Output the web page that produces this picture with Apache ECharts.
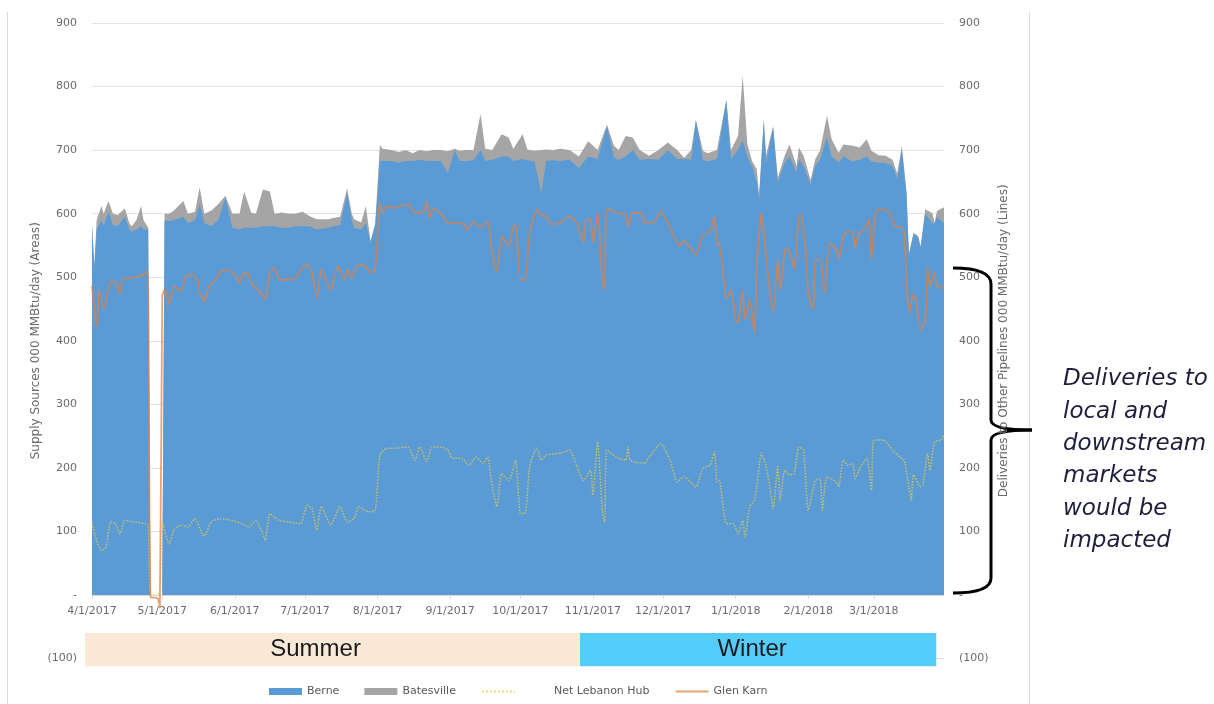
<!DOCTYPE html>
<html>
<head>
<meta charset="utf-8" />
<script src="https://cdn.jsdelivr.net/npm/echarts@6/dist/echarts.min.js"></script>
<style>
  html, body { margin: 0; padding: 0; background: #fff; }
  #main { width: 1214px; height: 704px; }
</style>
</head>
<body>
<div id="main"></div>
<script>
// x values are days counted from 4/1/2017
var monthTicks = [0, 30, 61, 91, 122, 153, 183, 214, 244, 275, 306, 334];
var monthLabels = ["4/1/2017", "5/1/2017", "6/1/2017", "7/1/2017", "8/1/2017", "9/1/2017",
  "10/1/2017", "11/1/2017", "12/1/2017", "1/1/2018", "2/1/2018", "3/1/2018"];

var areaDays = [0, 1, 2, 4, 5, 7, 9, 11, 14, 16,
  17, 19, 21, 22, 24, 25, 30, 31, 33, 35,
  39, 41, 44, 46, 48, 51, 54, 57, 60, 63,
  65, 68, 70, 73, 76, 78, 81, 84, 87, 90,
  93, 96, 101, 103, 106, 109, 111, 112, 115, 117,
  119, 121, 123, 124, 128, 131, 134, 137, 140, 143,
  146, 149, 152, 155, 157, 160, 163, 166, 168, 171,
  175, 178, 180, 184, 186, 189, 192, 194, 197, 200,
  204, 208, 212, 216, 220, 223, 225, 228, 231, 234,
  238, 242, 246, 250, 253, 256, 258, 261, 263, 267,
  271, 273, 276, 278, 280, 282, 284, 285, 287, 288,
  291, 293, 296, 298, 301, 302, 304, 307, 309, 311,
  314, 316, 319, 321, 325, 328, 331, 333, 336, 339,
  342, 344, 346, 348, 349, 351, 353, 354, 356, 359,
  360, 361, 364];
var berne = [578, 515, 575, 590, 580, 603, 582, 580, 595, 575,
  572, 575, 580, 575, 575, 0, 0, 590, 588, 590,
  595, 585, 590, 615, 585, 580, 590, 625, 578, 575,
  578, 578, 578, 580, 580, 580, 578, 578, 580, 580,
  580, 575, 578, 580, 582, 632, 590, 578, 575, 585,
  555, 580, 683, 683, 683, 680, 683, 683, 685, 683,
  683, 683, 664, 700, 683, 683, 684, 700, 683, 685,
  690, 690, 683, 686, 684, 682, 633, 683, 684, 683,
  685, 672, 690, 686, 738, 688, 685, 690, 700, 685,
  686, 685, 700, 686, 686, 685, 746, 685, 682, 686,
  778, 686, 700, 715, 690, 675, 650, 622, 745, 680,
  735, 649, 680, 690, 665, 685, 675, 645, 675, 685,
  720, 690, 680, 690, 682, 685, 690, 682, 680, 680,
  675, 655, 700, 630, 533, 568, 562, 546, 600, 585,
  584, 595, 585];
var batesville = [7, 5, 15, 22, 20, 17, 18, 18, 13, 10,
  8, 15, 32, 15, 3, 0, 0, 10, 12, 15,
  25, 15, 13, 26, 15, 25, 25, 3, 22, 25,
  57, 24, 22, 58, 55, 20, 24, 22, 20, 23,
  16, 16, 13, 13, 13, 8, 10, 13, 11, 27,
  2, 5, 26, 19, 17, 17, 17, 12, 15, 15,
  17, 17, 34, 2, 16, 17, 16, 57, 19, 15,
  35, 30, 19, 39, 17, 17, 67, 18, 16, 19,
  15, 18, 24, 14, 2, 19, 15, 32, 20, 15,
  5, 15, 12, 14, 2, 15, 2, 14, 13, 14,
  2, 14, 22, 102, 19, 8, 20, 8, 4, 12,
  3, 8, 12, 19, 10, 19, 16, 8, 11, 14,
  34, 27, 16, 19, 25, 19, 27, 17, 12, 11,
  10, 8, 7, 3, 5, 2, 3, 3, 7, 16,
  2, 9, 25];

var hubDays = [0, 2, 4, 6, 8, 10, 12, 14, 18, 23,
  24, 25, 28, 29, 30, 33, 35, 38, 41, 44,
  47, 48, 51, 55, 60, 64, 67, 70, 73, 74,
  76, 78, 80, 84, 89, 92, 94, 96, 98, 102,
  106, 109, 112, 114, 118, 121, 123, 126, 130, 135,
  138, 140, 143, 145, 149, 152, 154, 158, 161, 164,
  167, 169, 171, 173, 175, 178, 181, 183, 185, 187,
  190, 192, 194, 200, 204, 207, 210, 213, 214, 216,
  218, 219, 220, 224, 228, 229, 230, 236, 238, 243,
  247, 250, 253, 258, 261, 264, 266, 267, 268, 271,
  274, 276, 278, 279, 281, 283, 284, 286, 288, 290,
  291, 293, 294, 296, 298, 300, 302, 304, 306, 309,
  311, 312, 314, 318, 319, 321, 323, 325, 326, 328,
  331, 333, 334, 338, 342, 345, 347, 349, 350, 351,
  354, 355, 357, 358, 360, 363, 364];
var netLebanonHub = [112, 86, 70, 75, 115, 112, 96, 117, 115, 112,
  110, 2, 0, 5, 115, 80, 102, 110, 107, 120,
  96, 93, 115, 120, 117, 112, 107, 117, 96, 86,
  128, 122, 117, 115, 112, 141, 136, 102, 139, 110,
  139, 115, 120, 139, 131, 133, 220, 231, 231, 233,
  212, 233, 210, 231, 233, 228, 215, 215, 204, 217,
  207, 217, 170, 139, 191, 180, 212, 128, 128, 202,
  231, 212, 220, 223, 228, 204, 180, 196, 157, 241,
  133, 115, 228, 217, 212, 233, 212, 207, 217, 238,
  212, 178, 186, 170, 199, 204, 225, 178, 180, 112,
  112, 96, 117, 91, 139, 149, 170, 223, 202, 160,
  136, 202, 149, 196, 189, 191, 233, 228, 133, 180,
  183, 133, 186, 178, 170, 212, 204, 207, 183, 199,
  215, 165, 244, 244, 228, 217, 212, 170, 149, 189,
  170, 173, 223, 196, 241, 244, 252];

var karnDays = [0, 2, 3, 5, 8, 10, 12, 13, 17, 21,
  23, 24, 25, 28, 29, 30, 31, 33, 35, 38,
  40, 43, 45, 46, 48, 50, 53, 55, 58, 61,
  63, 65, 67, 68, 71, 74, 75, 76, 78, 80,
  84, 87, 90, 92, 94, 96, 98, 101, 102, 105,
  108, 109, 111, 113, 116, 119, 121, 123, 124, 126,
  129, 132, 135, 138, 142, 143, 144, 146, 149, 152,
  155, 159, 160, 163, 166, 169, 171, 173, 175, 178,
  180, 181, 183, 185, 187, 190, 192, 193, 197, 200,
  204, 207, 210, 211, 213, 214, 216, 218, 219, 220,
  224, 228, 229, 231, 235, 236, 240, 243, 247, 251,
  253, 258, 261, 264, 266, 267, 268, 271, 273, 275,
  276, 278, 279, 281, 283, 284, 286, 287, 289, 291,
  293, 294, 296, 297, 299, 300, 302, 303, 305, 306,
  308, 309, 311, 313, 315, 318, 319, 321, 323, 325,
  326, 328, 331, 332, 333, 335, 338, 341, 343, 346,
  347, 348, 349, 351, 352, 354, 356, 357, 358, 360,
  361, 364];
var glenKarn = [486, 422, 480, 449, 494, 491, 475, 496, 499, 502,
  508, 508, -3, -5, -20, 470, 480, 457, 486, 478,
  501, 504, 496, 475, 462, 486, 496, 509, 511, 504,
  491, 507, 504, 491, 480, 465, 486, 507, 515, 496,
  496, 499, 515, 520, 507, 467, 512, 486, 480, 517,
  496, 512, 499, 517, 520, 507, 512, 617, 601, 612,
  609, 612, 615, 601, 604, 620, 593, 607, 601, 586,
  586, 583, 575, 587, 578, 588, 538, 509, 565, 549,
  580, 583, 496, 496, 570, 607, 596, 599, 583, 586,
  596, 586, 554, 591, 591, 554, 601, 496, 480, 609,
  601, 599, 580, 601, 601, 586, 586, 604, 578, 549,
  557, 536, 567, 572, 596, 549, 554, 465, 480, 433,
  428, 480, 433, 465, 412, 517, 601, 570, 496, 444,
  528, 480, 543, 546, 528, 512, 596, 599, 538, 475,
  449, 528, 528, 475, 554, 543, 528, 565, 572, 570,
  546, 570, 580, 593, 528, 604, 607, 601, 580, 578,
  570, 496, 444, 473, 465, 417, 433, 517, 486, 507,
  486, 483];

var seasonNames = ["Summer", "Winter"];
var seasonStart = [-3, 208.5];
var seasonEnd = [208.5, 360.7];
var seasonTextDay = [95.5, 282];
var seasonColors = ["#fbe9d8", "#55cdfc"];

function pairs(xs, ys) {
  return xs.map(function (x, i) {
    return [x, ys[i]];
  });
}

// gray area is drawn as the top of the pile, Berne is painted over it
var supplyTop = berne.map(function (v, i) {
  return v + batesville[i];
});

var labelFont = "DejaVu Sans";
var labelColor = "#6b6b6b";
var karnColor = "rgba(226, 128, 66, 0.72)";
var hubColor = "rgba(236, 205, 60, 0.75)";

function yLabel(v) {
  if (v === 0) return "-";
  if (v < 0) return "(" + -v + ")";
  return v;
}

var yCommon = {
  type: "value",
  gridIndex: 0,
  min: -100,
  max: 900,
  interval: 100,
  nameLocation: "middle",
  nameRotate: 90,
  nameMoveOverlap: false,
  axisLine: { show: false },
  axisTick: { show: false },
  axisLabel: {
    formatter: yLabel,
    margin: 15,
    color: labelColor,
    fontFamily: labelFont,
    fontSize: 11,
  },
};

// the brace on the right, as simple pieces
var braceStyle = { stroke: "#000", lineWidth: 3, fill: "none" };
var brace = [
  { type: "bezierCurve", shape: { x1: 953, y1: 268, cpx1: 991, cpy1: 268, x2: 991, y2: 284 } },
  { type: "line", shape: { x1: 991, y1: 284, x2: 991, y2: 420 } },
  { type: "bezierCurve", shape: { x1: 991, y1: 420, cpx1: 991, cpy1: 430, x2: 1032, y2: 430 } },
  { type: "bezierCurve", shape: { x1: 1032, y1: 430, cpx1: 991, cpy1: 430, x2: 991, y2: 440 } },
  { type: "line", shape: { x1: 991, y1: 440, x2: 991, y2: 578 } },
  { type: "bezierCurve", shape: { x1: 991, y1: 578, cpx1: 991, cpy1: 593, x2: 953, y2: 593 } },
].map(function (el) {
  el.style = braceStyle;
  return el;
});

var hideDot = { color: "transparent", borderWidth: 0, borderColor: "transparent" };

var option = {
  animation: false,
  backgroundColor: "#fff",
  grid: [
    { left: 92, right: 270, top: 23, bottom: 45.5, containLabel: false },
    // same width, bottom on the zero line: only carries the date labels
    { left: 92, right: 270, top: 23, bottom: 109.7, containLabel: false },
  ],
  legend: {
    left: 264,
    top: 681,
    itemWidth: 33,
    itemHeight: 7,
    itemGap: 25,
    textStyle: {
      fontFamily: labelFont,
      fontSize: 11,
      color: "#595959",
      rich: { gap: { width: 34 } },
    },
    formatter: function (name) {
      return name === "Net Lebanon Hub" ? "{gap|}" + name : name;
    },
    data: [
      { name: "Berne", icon: "rect" },
      { name: "Batesville", icon: "rect" },
      { name: "Net Lebanon Hub", itemStyle: hideDot },
      { name: "Glen Karn", itemStyle: hideDot },
    ],
  },
  xAxis: [
    {
      type: "value",
      gridIndex: 0,
      min: 0,
      max: 364,
      splitLine: { show: false },
      axisLine: { onZero: true, onZeroAxisIndex: 0, lineStyle: { color: "#d9d9d9" } },
      axisTick: {
        show: true,
        customValues: monthTicks,
        length: 4,
        lineStyle: { color: "#d9d9d9" },
      },
      axisLabel: { show: false },
    },
    {
      type: "value",
      gridIndex: 1,
      min: 0,
      max: 364,
      splitLine: { show: false },
      axisLine: { show: false },
      axisTick: { show: false },
      axisLabel: {
        customValues: monthTicks,
        formatter: function (v) {
          var i = monthTicks.indexOf(v);
          return i >= 0 ? monthLabels[i] : "";
        },
        margin: 11,
        color: labelColor,
        fontFamily: labelFont,
        fontSize: 11,
      },
    },
  ],
  yAxis: [
    Object.assign({}, yCommon, {
      position: "left",
      name: "Supply Sources 000 MMBtu/day (Areas)",
      nameGap: 50,
      nameTextStyle: { color: labelColor, fontFamily: labelFont, fontSize: 12 },
      splitLine: { show: true, lineStyle: { color: "#e3e3e3", width: 1 } },
    }),
    Object.assign({}, yCommon, {
      position: "right",
      name: "Deliveries to Other Pipelines 000 MMBtu/day (Lines)",
      nameGap: 54,
      nameTextStyle: { color: labelColor, fontFamily: labelFont, fontSize: 12 },
      splitLine: { show: false },
    }),
    { type: "value", gridIndex: 1, show: false, min: 0, max: 900 },
  ],
  series: [
    {
      name: "Batesville",
      type: "line",
      symbol: "none",
      data: pairs(areaDays, supplyTop),
      lineStyle: { width: 0 },
      itemStyle: { color: "#a5a5a5" },
      areaStyle: { color: "#a5a5a5", opacity: 1 },
      z: 2,
    },
    {
      name: "Berne",
      type: "line",
      symbol: "none",
      data: pairs(areaDays, berne),
      lineStyle: { width: 0 },
      itemStyle: { color: "#5b9bd5" },
      areaStyle: { color: "#5b9bd5", opacity: 1 },
      z: 2,
    },
    {
      name: "Net Lebanon Hub",
      type: "line",
      yAxisIndex: 1,
      symbol: "none",
      smooth: 0.2,
      data: pairs(hubDays, netLebanonHub),
      itemStyle: { color: hubColor },
      lineStyle: { color: hubColor, width: 1.5, type: "dotted" },
      z: 3,
    },
    {
      name: "Glen Karn",
      type: "line",
      yAxisIndex: 1,
      symbol: "none",
      smooth: 0.2,
      data: pairs(karnDays, glenKarn),
      itemStyle: { color: karnColor },
      lineStyle: { color: karnColor, width: 1.8 },
      z: 4,
    },
    {
      name: "seasons",
      type: "custom",
      silent: true,
      clip: false,
      data: seasonNames.map(function (n, i) {
        return [seasonStart[i], seasonEnd[i], seasonTextDay[i], i];
      }),
      encode: { x: [0, 1] },
      renderItem: function (params, api) {
        var i = api.value(3);
        var a = api.coord([api.value(0), -60]);
        var b = api.coord([api.value(1), -112]);
        var t = api.coord([api.value(2), -86]);
        return {
          type: "group",
          children: [
            {
              type: "rect",
              shape: { x: a[0], y: a[1], width: b[0] - a[0], height: b[1] - a[1] },
              style: { fill: seasonColors[i] },
            },
            {
              type: "text",
              x: t[0],
              y: t[1],
              style: {
                text: seasonNames[i],
                fontFamily: "Liberation Sans",
                fontSize: 24,
                fill: "#1a1a1a",
                align: "center",
                verticalAlign: "middle",
              },
            },
          ],
        };
      },
      z: 5,
    },
  ],
  graphic: [
    {
      type: "line",
      shape: { x1: 7.5, y1: 12, x2: 7.5, y2: 704 },
      style: { stroke: "#d9d9d9", lineWidth: 1 },
    },
    {
      type: "line",
      shape: { x1: 1029.5, y1: 12, x2: 1029.5, y2: 704 },
      style: { stroke: "#d9d9d9", lineWidth: 1 },
    },
    {
      type: "text",
      x: 1063,
      y: 363,
      style: {
        text: "Deliveries to\nlocal and\ndownstream\nmarkets\nwould be\nimpacted",
        fontFamily: "DejaVu Sans",
        fontStyle: "italic",
        fontSize: 23,
        lineHeight: 32.4,
        fill: "#1f1f3d",
      },
    },
  ].concat(brace),
};

var myChart = echarts.init(document.getElementById("main"));
myChart.setOption(option);
</script>
</body>
</html>
